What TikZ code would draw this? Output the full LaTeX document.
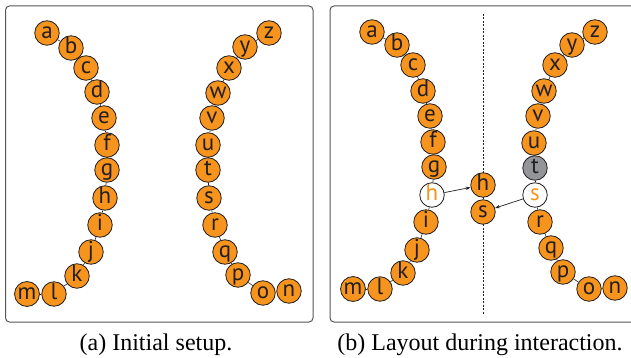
\documentclass[tikz,border=0pt]{standalone}
\usepackage{fontspec}
\setmainfont{Liberation Serif}
\newfontfamily\nodefont{PT Sans}
\usetikzlibrary{arrows.meta}
\definecolor{orng}{HTML}{F7941D}
\definecolor{dk}{HTML}{231F20}
\definecolor{gry}{HTML}{939598}
\definecolor{frame}{HTML}{555555}
\tikzset{
  nd/.style={circle,draw=dk,line width=0.8pt,fill=orng,text=dk,minimum size=24.5pt,inner sep=0pt,
    text height=14pt,text depth=2.5pt,font=\nodefont\fontsize{23}{23}\selectfont},
  wn/.style={nd,fill=white,text=orng},
  gn/.style={nd,fill=gry},
  edge/.style={draw=dk,line width=0.6pt},
  arr/.style={draw=dk,line width=0.7pt,-{Stealth[length=5pt,width=3.5pt]}},
  panel/.style={draw=frame,line width=1pt,rounded corners=4pt},
  captext/.style={font=\fontsize{24}{26}\selectfont,anchor=base,text=black}
}
\begin{document}
\begin{tikzpicture}[x=1pt,y=-1pt]
\useasboundingbox (0,0) rectangle (631,358);
\clip (0,0) rectangle (631,358);
\draw[panel] (5.5,6) rectangle (313,322);
\draw[panel] (330,6) rectangle (645,322);
% panel (a)
\foreach \n/\x/\y in {a/47/33,b/71/48,c/86/68,d/97/92,e/104/118,f/107/145,g/107/170,h/105/198,i/100/225,j/91/252,k/77/276,l/54/294,m/27/294,
  z/269/33,y/245/47,x/229/68,w/218/93,v/212/118,u/208/145,t/208/170,s/209/198,r/215/225,q/225/252,p/238/275,o/263/293,n/289/291}
  \node[nd] (A\n) at (\x,\y) {\n};
\foreach \p/\q in {a/b,b/c,c/d,d/e,e/f,f/g,g/h,h/i,i/j,j/k,k/l,l/m,z/y,y/x,x/w,w/v,v/u,u/t,t/s,s/r,r/q,q/p,p/o,o/n}
  \draw[edge] (A\p) -- (A\q);
% panel (b)
\coordinate (Dtop) at (483,14);
\coordinate (Dbot) at (483,315);
\draw[draw=dk,line width=0.6pt,dash pattern=on 2pt off 1.5pt] (Dtop) -- (Dbot);
\foreach \n/\x/\y in {a/372/32,b/397/45,c/413/65,d/423/91,e/430/116,f/433/142,g/434/167,i/426/222,j/417/250,k/403/273,l/380/289,m/353/289,
  z/595/32,y/572/45,x/555/65,w/544/91,v/538/116,u/534/143,r/540/222,q/551/248,p/563/272,o/589/289,n/615/288}
  \node[nd] (B\n) at (\x,\y) {\n};
\node[wn] (Bh) at (432,195) {h};
\node[wn] (Bs) at (535,195) {s};
\node[gn] (Bt) at (535,168) {t};
\node[nd] (Mh) at (483,185) {h};
\node[nd] (Ms) at (483,212) {s};
\foreach \p/\q in {a/b,b/c,c/d,d/e,e/f,f/g,g/h,h/i,i/j,j/k,k/l,l/m,z/y,y/x,x/w,w/v,v/u,u/t,t/s,s/r,r/q,q/p,p/o,o/n}
  \draw[edge] (B\p) -- (B\q);
\draw[edge] (Mh) -- (Ms);
\draw[arr] (Bh) -- (Mh);
\draw[arr] (Bs) -- (Ms);
% captions
\node[captext] (capa) at (156,350) {(a) Initial setup.};
\node[captext] (capb) at (480,350) {(b) Layout during interaction.};
\end{tikzpicture}
\end{document}
